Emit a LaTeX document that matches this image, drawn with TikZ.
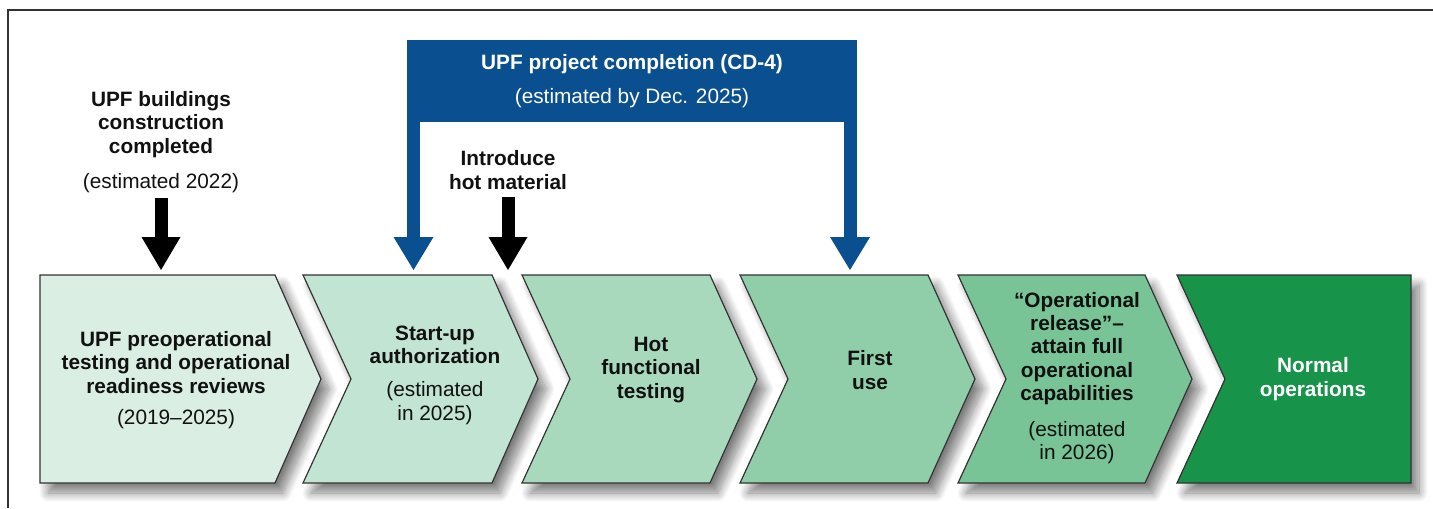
\documentclass[tikz,border=0pt]{standalone}
\usepackage{fontspec}
\setmainfont{Liberation Sans}
\usetikzlibrary{arrows.meta, shadows.blur}

\definecolor{stageA}{HTML}{DAEEE3}
\definecolor{stageB}{HTML}{C2E4D2}
\definecolor{stageC}{HTML}{A9D9BD}
\definecolor{stageD}{HTML}{90CEA9}
\definecolor{stageE}{HTML}{79C497}
\definecolor{stageF}{HTML}{17934A}
\definecolor{doeblue}{HTML}{0A4F8F}
\definecolor{textdark}{HTML}{111111}

\tikzset{
  stage/.style={draw=black!80, line width=0.6pt, line join=miter,
    blur shadow={shadow xshift=4pt, shadow yshift=-5pt, shadow blur radius=4.5pt,
      shadow blur steps=14, shadow opacity=50}},
  stagetext/.style={align=center, inner sep=0pt, text=textdark,
    font=\fontsize{10.4}{11.7}\selectfont\bfseries},
  bluearrow/.style={doeblue, line width=6.5pt,
    -{Triangle[length=16.5pt, width=20pt, line width=0pt]}},
  blackarrow/.style={black, line width=6.5pt,
    -{Triangle[length=16.5pt, width=19.5pt, line width=0pt]}},
}

\begin{document}
\begin{tikzpicture}[x=0.5pt, y=-0.5pt]
    \useasboundingbox (0,0) rectangle (1433,508);

    % frame
    \draw[black!80, line width=0.8pt] (8,508) -- (8,10) -- (1433,10);

    % stages
    \draw[stage, fill=stageA] (40,275) -- (275,275) -- (321,379) -- (275,483) -- (40,483) -- cycle;
    \draw[stage, fill=stageB] (303,275) -- (492,275) -- (538,379) -- (492,483) -- (303,483) -- (351,379) -- cycle;
    \draw[stage, fill=stageC] (522,275) -- (710,275) -- (757,379) -- (710,483) -- (522,483) -- (570,379) -- cycle;
    \draw[stage, fill=stageD] (740,275) -- (928,275) -- (975,379) -- (928,483) -- (740,483) -- (788,379) -- cycle;
    \draw[stage, fill=stageE] (958,275) -- (1145,275) -- (1192,379) -- (1145,483) -- (958,483) -- (1006,379) -- cycle;
    \draw[stage, fill=stageF] (1177,275) -- (1411,275) -- (1411,483) -- (1177,483) -- (1225,379) -- cycle;

    \node[stagetext] (s1) at (176,380) {UPF preoperational\\testing and operational\\readiness reviews\\[4pt]{\mdseries(2019–2025)}};
    \node[stagetext] (s2) at (435,375) {Start-up\\authorization\\[5pt]{\mdseries(estimated}\\{\mdseries in 2025)}};
    \node[stagetext] (s3) at (651,370) {Hot\\functional\\testing};
    \node[stagetext] (s4) at (870,370) {First\\use};
    \node[stagetext] (s5) at (1077,378) {“Operational\\release”–\\attain full\\operational\\capabilities\\[6pt]{\mdseries(estimated}\\{\mdseries in 2026)}};
    \node[stagetext, text=white] (s6) at (1313,379) {Normal\\operations};

    % milestones
    \node[stagetext] (bldg) at (161,142) {UPF buildings\\construction\\completed\\[6pt]{\mdseries(estimated 2022)}};
    \node[stagetext] (hot) at (508,170) {Introduce\\hot material};
    \node[stagetext, text=white, fill=doeblue, minimum width=225pt, minimum height=41pt] (cd4) at (632,81)
        {UPF project completion (CD-4)\\[5pt]{\mdseries(estimated by Dec. 2025)}};

    \coordinate (in1) at (161,270);
    \coordinate (in2) at (413.5,270);
    \coordinate (in3) at (508,270);
    \coordinate (in4) at (850,270);

    \draw[blackarrow] ([yshift=-2.5pt]bldg.south) -- (in1);
    \draw[blackarrow] ([yshift=-3.5pt]hot.south) -- (in3);
    \draw[bluearrow] (cd4.south -| in2) -- (in2);
    \draw[bluearrow] (cd4.south -| in4) -- (in4);

\end{tikzpicture}
\end{document}
